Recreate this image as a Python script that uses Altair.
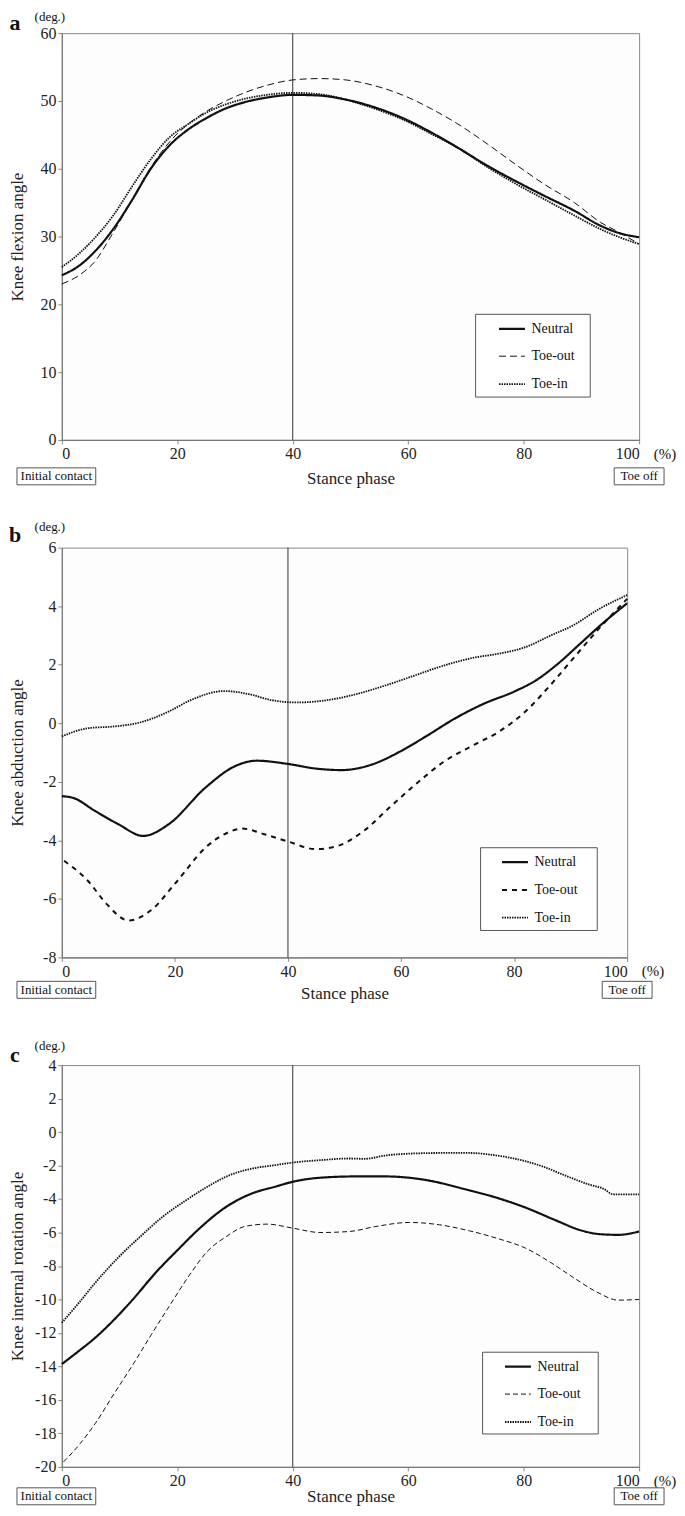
import altair as alt
import pandas as pd

FONT = "Liberation Serif"
SERIES = ["Neutral", "Toe-out", "Toe-in"]
X_TICKS = [0, 20, 40, 60, 80, 100]
VLINE = [40]

# ---------- Panel a: knee flexion ----------
xa = [0, 3, 5.6, 8.9, 12.1, 15.4, 18.6, 21.9, 25.1, 28.4, 31.6, 35.5, 40, 44.6,
      49.2, 54.4, 59.5, 64.1, 68.6, 73.8, 79, 83.6, 88.8, 93.3, 96.6, 100]
neutral_a = [24.3, 25.7, 27.7, 31.1, 35.3, 40.0, 43.4, 45.8, 47.5, 48.9, 49.8, 50.5, 50.9, 50.8,
             50.2, 49.0, 47.3, 45.3, 43.1, 40.4, 38.0, 36.0, 33.8, 31.6, 30.5, 29.9]
toeout_a = [23.0, 24.3, 26.2, 30.6, 35.3, 40.2, 43.9, 46.6, 48.5, 50.0, 51.2, 52.3, 53.1, 53.3,
            53.1, 52.2, 50.7, 48.8, 46.6, 43.6, 40.4, 37.7, 35.0, 32.1, 30.6, 28.9]
toein_a = [25.5, 27.5, 29.7, 33.1, 37.3, 41.4, 44.6, 46.6, 48.3, 49.5, 50.3, 50.9, 51.2, 51.0,
           50.2, 48.8, 47.1, 45.1, 43.1, 40.2, 37.6, 35.5, 33.1, 31.1, 29.9, 28.9]

# ---------- Panel b: knee abduction ----------
xb_neutral = [0, 2, 5.9, 10, 14.4, 18.9, 25.4, 30.6, 34.5, 40, 45, 49.5, 54.7, 59.9, 64.4,
              69.6, 74.8, 80, 83.9, 87.8, 91.7, 95.6, 100]
neutral_b = [-2.49, -2.55, -3.0, -3.45, -3.85, -3.45, -2.2, -1.47, -1.28, -1.39, -1.55, -1.6,
             -1.42, -0.96, -0.45, 0.17, 0.68, 1.08, 1.47, 2.04, 2.72, 3.4, 4.1]
xb_toeout = [0.4, 4.6, 7.9, 11.8, 15.7, 20.2, 25.4, 29.3, 31.9, 35.8, 40, 44.9, 48.8, 53.4,
             57.9, 62.5, 67.7, 72.9, 77.4, 82, 85.9, 90.4, 95, 100]
toeout_b = [-4.7, -5.38, -6.17, -6.74, -6.4, -5.44, -4.25, -3.74, -3.6, -3.79, -4.04, -4.3,
            -4.19, -3.68, -2.89, -2.1, -1.3, -0.74, -0.28, 0.4, 1.19, 2.2, 3.23, 4.25]
xb_toein = [0, 4.6, 9.2, 13.7, 18.9, 22.8, 28.7, 33.2, 37.1, 41.7, 46.2, 51.4, 56.6, 61.8,
            67.7, 72.9, 77.4, 82, 86.5, 90.4, 95, 100]
toein_b = [-0.45, -0.17, -0.11, 0.02, 0.4, 0.79, 1.1, 0.99, 0.79, 0.71, 0.77, 0.96, 1.25, 1.59,
           1.98, 2.24, 2.38, 2.6, 3.0, 3.34, 3.9, 4.38]

# ---------- Panel c: knee internal rotation ----------
xc_neutral = [0, 2.6, 5.8, 9.1, 12.3, 16.2, 20.1, 23.9, 28.5, 33, 36.9, 40, 44.7, 51.1, 55.7,
              60.2, 64.1, 69.3, 75.1, 80.3, 85.4, 90, 93.2, 96.4, 100]
neutral_c = [-13.86, -13.17, -12.28, -11.19, -10.0, -8.42, -7.03, -5.74, -4.46, -3.66, -3.27,
             -2.97, -2.73, -2.65, -2.65, -2.73, -2.93, -3.37, -3.9, -4.51, -5.25, -5.88, -6.1,
             -6.14, -5.94]
xc_toeout = [0.3, 3.2, 5.8, 9.1, 12.3, 15.5, 18.8, 22, 25.2, 28.5, 31.7, 35.6, 40, 44.7, 49.8,
             54.4, 60.2, 65.4, 70.6, 75.7, 80.3, 84.8, 88.7, 92.6, 96.4, 100]
toeout_c = [-19.7, -18.6, -17.4, -15.6, -13.9, -12.1, -10.3, -8.6, -7.13, -6.24, -5.64, -5.5,
            -5.74, -6.0, -5.94, -5.64, -5.4, -5.54, -5.9, -6.38, -6.93, -7.82, -8.71, -9.54,
            -10.04, -10.0]
xc_toein = [0, 3.2, 5.8, 9.7, 13.6, 17.5, 21.4, 25.2, 29.1, 33, 36.9, 40, 44.7, 49.8, 52.4,
            56.3, 60.2, 65.4, 70.6, 75.1, 80.3, 83.5, 86.7, 91.3, 93.9, 95.5, 100]
toein_c = [-11.39, -10.1, -9.0, -7.52, -6.24, -5.05, -4.1, -3.27, -2.57, -2.18, -1.98, -1.82,
           -1.68, -1.58, -1.6, -1.39, -1.29, -1.25, -1.25, -1.39, -1.74, -2.08, -2.53, -3.13,
           -3.4, -3.72, -3.72]

NEG = "datum.value < 0 ? '-' + abs(datum.value) : '' + datum.value"


def const_text(text, x, y, size=13, weight="normal", align="center"):
    return alt.Chart(pd.DataFrame({"k": [0]})).mark_text(
        text=text, font=FONT, fontSize=size, fontWeight=weight, align=align,
        baseline="middle", color="#111"
    ).encode(x=alt.value(x), y=alt.value(y))


def box(x0, x1, y0, y1, fill="white"):
    return alt.Chart(pd.DataFrame({"k": [0]})).mark_rect(
        fill=fill, stroke="#555", strokeWidth=1
    ).encode(x=alt.value(x0), x2=alt.value(x1), y=alt.value(y0), y2=alt.value(y1))


def panel(letter, ytitle, ydomain, yticks, series, dashes, widths, w, h,
          leg_xy, leg_box, deg_y, letter_y, title_pad, box_y):
    rows = []
    for name, xs, ys in series:
        for xv, yv in zip(xs, ys):
            rows.append({"x": xv, "y": yv, "cond": name})
    df = pd.DataFrame(rows)

    legend = alt.Legend(
        title=None, orient="none", legendX=leg_xy[0], legendY=leg_xy[1],
        padding=0, symbolType="stroke", symbolSize=676, symbolStrokeColor="#111",
        rowPadding=6.5, labelFont=FONT, labelFontSize=14, labelColor="#111",
        labelOffset=5,
    )
    axis_common = dict(labelFont=FONT, labelFontSize=16, labelColor="#222",
                       titleFont=FONT, titleFontSize=17, titleFontWeight="normal",
                       titleColor="#222", domainColor="#777", domainWidth=1.2,
                       tickColor="#888", tickSize=4, labelPadding=2, grid=False)
    lines = alt.Chart(df).mark_line(interpolate="monotone", color="#111").encode(
        x=alt.X("x:Q", scale=alt.Scale(domain=[0, 100], nice=False, zero=False),
                axis=alt.Axis(values=X_TICKS, title="Stance phase", titlePadding=title_pad,
                              **axis_common)),
        y=alt.Y("y:Q", scale=alt.Scale(domain=ydomain, nice=False, zero=False),
                axis=alt.Axis(values=yticks, title=ytitle, labelExpr=NEG,
                              titleX=-44, titleY=h / 2, titleBaseline="middle",
                              **axis_common)),
        strokeDash=alt.StrokeDash("cond:N", scale=alt.Scale(domain=SERIES, range=dashes),
                                  legend=legend),
        strokeWidth=alt.StrokeWidth("cond:N",
                                    scale=alt.Scale(type="ordinal", domain=SERIES, range=widths),
                                    legend=legend),
        order=alt.Order("x:Q"),
    )
    rule = alt.Chart(pd.DataFrame({"x": VLINE})).mark_rule(color="#333", strokeWidth=1).encode(
        x="x:Q")
    layers = [
        box(leg_box[0], leg_box[1], leg_box[2], leg_box[3]),
        rule,
        lines,
        const_text("(deg.)", -12, deg_y, size=13),
        const_text(letter, -47, letter_y, size=22, weight="bold"),
        const_text("(%)", w + 26, h + 14, size=15),
        box(-45, 34, h + box_y, h + box_y + 17),
        const_text("Initial contact", -5.5, h + box_y + 8.5, size=13),
        box(w - 25, w + 25, h + box_y, h + box_y + 17),
        const_text("Toe off", w, h + box_y + 8.5, size=13),
    ]
    return alt.layer(*layers).properties(width=w, height=h)


pa = panel("a", "Knee flexion angle", [0, 60], list(range(0, 61, 10)),
           [("Neutral", xa, neutral_a), ("Toe-out", xa, toeout_a), ("Toe-in", xa, toein_a)],
           [[1, 0], [7, 4], [1.5, 1]], [2.2, 1.0, 1.8], 579, 408,
           (437, 282), (415, 530, 282, 365), -16, -10, 9, 28)
pb = panel("b", "Knee abduction angle", [-8, 6], list(range(-8, 7, 2)),
           [("Neutral", xb_neutral, neutral_b), ("Toe-out", xb_toeout, toeout_b),
            ("Toe-in", xb_toein, toein_b)],
           [[1, 0], [5, 5], [1.5, 1]], [2.2, 2.0, 1.8], 567, 411,
           (440, 301), (420, 537, 301, 384), -21, -13, 6, 24)
pc = panel("c", "Knee internal rotation angle", [-20, 4], list(range(-20, 5, 2)),
           [("Neutral", xc_neutral, neutral_c), ("Toe-out", xc_toeout, toeout_c),
            ("Toe-in", xc_toein, toein_c)],
           [[1, 0], [5, 3], [1.5, 1]], [2.2, 1.0, 1.8], 579, 403,
           (443, 288), (422, 538, 288, 370), -19, -10, 0, 21)

RES = dict(x="independent", y="independent", strokeDash="independent",
           strokeWidth="independent")

chart = alt.vconcat(pa, pb, pc, spacing=108, bounds="flush").resolve_scale(**RES).resolve_legend(
    strokeDash="independent", strokeWidth="independent")

chart = chart.properties(
    padding={"left": 0, "top": 0, "right": 0, "bottom": 0},
    background="white",
).configure_view(
    stroke="#888", strokeWidth=1, fill="#fdfdfd"
)

chart.save("out.html", embed_options={"renderer": "svg", "actions": False})
